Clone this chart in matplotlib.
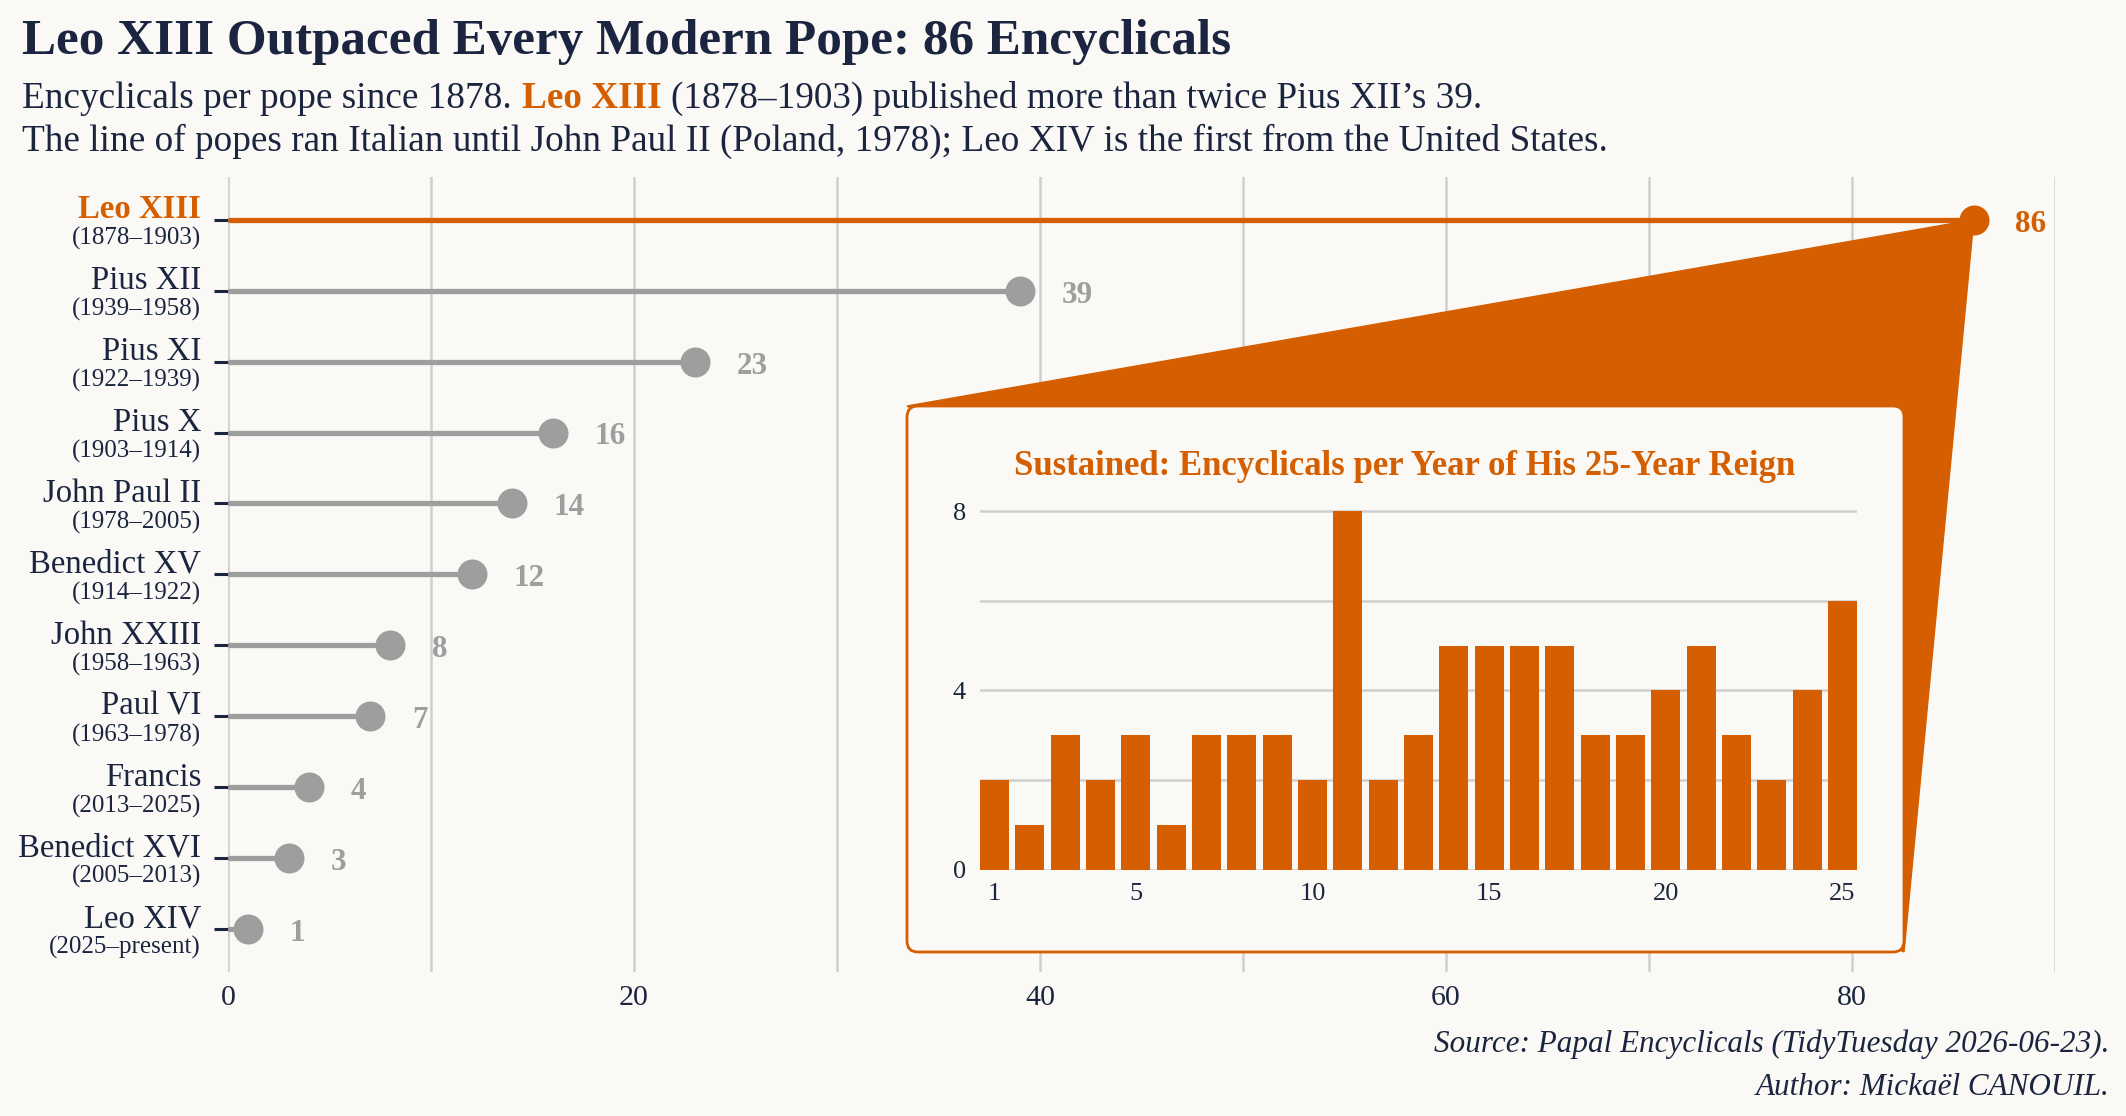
import matplotlib.pyplot as plt
from matplotlib.patches import FancyBboxPatch, Polygon
from matplotlib.transforms import IdentityTransform

# data
popes = ['Leo XIII', 'Pius XII', 'Pius XI', 'Pius X', 'John Paul II', 'Benedict XV',
         'John XXIII', 'Paul VI', 'Francis', 'Benedict XVI', 'Leo XIV']
reigns = ['(1878–1903)', '(1939–1958)', '(1922–1939)', '(1903–1914)', '(1978–2005)',
          '(1914–1922)', '(1958–1963)', '(1963–1978)', '(2013–2025)', '(2005–2013)',
          '(2025–present)']
encyclicals = [86, 39, 23, 16, 14, 12, 8, 7, 4, 3, 1]

reign_year = list(range(1, 26))
leo_per_year = [2, 1, 3, 2, 3, 1, 3, 3, 3, 2, 8, 2, 3, 5, 5, 5, 5, 3, 3, 4, 5, 3, 2, 4, 6]

# colours
orange = '#D55E00'
grey = '#9E9E9E'
navy = '#1B2540'
bg = '#FAF9F5'
gridc = '#CFCFCF'

plt.rcParams['font.family'] = ['Liberation Serif', 'DejaVu Serif']

W, H, DPI = 2126, 1116, 200
fig = plt.figure(figsize=(W / DPI, H / DPI), dpi=DPI, facecolor=bg)

# main lollipop chart
ax = fig.add_axes([228 / W, 1 - 971.5 / H, (2055 - 228) / W, (971.5 - 177.2) / H])
ax.set_facecolor(bg)
ax.set_xlim(0, 90)
ax.set_ylim(10.6, -0.6)
ax.set_xticks([0, 20, 40, 60, 80])
ax.set_xticks([10, 30, 50, 70, 90], minor=True)
ax.grid(which='both', axis='x', color=gridc, lw=0.9)
ax.set_axisbelow(True)
for s in ax.spines.values():
    s.set_visible(False)
ax.tick_params(axis='x', which='both', length=0, pad=5, labelsize=10.8, labelcolor=navy)
ax.set_yticks(range(len(popes)))
ax.set_yticklabels([])
ax.tick_params(axis='y', length=5, width=1.1, color=navy)

for i, (name, reign, n) in enumerate(zip(popes, reigns, encyclicals)):
    c = orange if i == 0 else grey
    ax.hlines(i, 0, n, color=c, lw=1.9, zorder=2)
    ax.plot(n, i, 'o', ms=9.8, color=c, zorder=3, clip_on=False)
    ax.annotate(str(n), (n, i), xytext=(15, -1.6), textcoords='offset points',
                ha='left', va='center', fontsize=11.2, fontweight='bold', color=c,
                annotation_clip=False)
    ax.annotate(name, (0, i), xycoords=('axes fraction', 'data'), xytext=(-9.7, 0.5),
                textcoords='offset points', ha='right', va='baseline', fontsize=11.8,
                color=orange if i == 0 else navy, fontweight='bold' if i == 0 else 'normal')
    ax.annotate(reign, (0, i), xycoords=('axes fraction', 'data'), xytext=(-9.7, -9),
                textcoords='offset points', ha='right', va='baseline', fontsize=9,
                color=navy)

# callout wedge + box (pixel coords)
fig.canvas.draw()
apex = ax.transData.transform((encyclicals[0], 0))
bx0, bx1, by_top, by_bot = 907, 1904, H - 406, H - 952
wedge = Polygon([apex, (bx0, by_top), (bx1, by_bot)], closed=True, facecolor=orange,
                edgecolor=orange, lw=0.5, transform=IdentityTransform(), zorder=1)
fig.add_artist(wedge)
box = FancyBboxPatch((bx0, by_bot), bx1 - bx0, by_top - by_bot,
                     boxstyle='round,pad=0,rounding_size=11', facecolor=bg,
                     edgecolor=orange, lw=1.0, transform=IdentityTransform(), zorder=2)
fig.add_artist(box)

# inset bar chart
ins = fig.add_axes([980 / W, 1 - 869.6 / H, (1857 - 980) / W, (869.6 - 497.8) / H], zorder=3)
ins.patch.set_alpha(0)
ins.bar(reign_year, leo_per_year, width=0.82, color=orange, zorder=2)
ins.set_xlim(1 - 0.41, 25 + 0.41)
ins.set_ylim(0, 8.3)
ins.set_yticks([0, 4, 8])
ins.set_yticks([2, 6], minor=True)
ins.set_xticks([1, 5, 10, 15, 20, 25])
ins.grid(which='both', axis='y', color=gridc, lw=0.9, zorder=0)
ins.set_axisbelow(True)
for s in ins.spines.values():
    s.set_visible(False)
ins.tick_params(which='both', length=0, labelsize=9.5, labelcolor=navy, pad=5)
fig.text(1405 / W, 1 - 475 / H, 'Sustained: Encyclicals per Year of His 25-Year Reign',
         ha='center', va='baseline', fontsize=12.5, fontweight='bold', color=orange, zorder=4)

# titles
fig.text(22 / W, 1 - 54 / H, 'Leo XIII Outpaced Every Modern Pope: 86 Encyclicals',
         fontsize=18.4, fontweight='bold', color=navy, va='baseline')

r = fig.canvas.get_renderer()
sub_y = 1 - 108 / H
parts = [('Encyclicals per pope since 1878.', navy, 'normal'),
         ('Leo XIII', orange, 'bold'),
         ('(1878–1903) published more than twice Pius XII’s 39.', navy, 'normal')]
x = 22
for txt, c, w in parts:
    t = fig.text(x / W, sub_y, txt, fontsize=13.4, color=c, fontweight=w, va='baseline')
    x = t.get_window_extent(r).x1 + 10
fig.text(22 / W, 1 - 151 / H,
         'The line of popes ran Italian until John Paul II (Poland, 1978); '
         'Leo XIV is the first from the United States.',
         fontsize=13.4, color=navy, va='baseline')

fig.text(2109 / W, 1 - 1052 / H, 'Source: Papal Encyclicals (TidyTuesday 2026-06-23).',
         ha='right', va='baseline', fontsize=11.2, style='italic', color=navy)
fig.text(2109 / W, 1 - 1095 / H, 'Author: Mickaël CANOUIL.',
         ha='right', va='baseline', fontsize=11.2, style='italic', color=navy)

fig.savefig('out.png', dpi=DPI, facecolor=bg)
